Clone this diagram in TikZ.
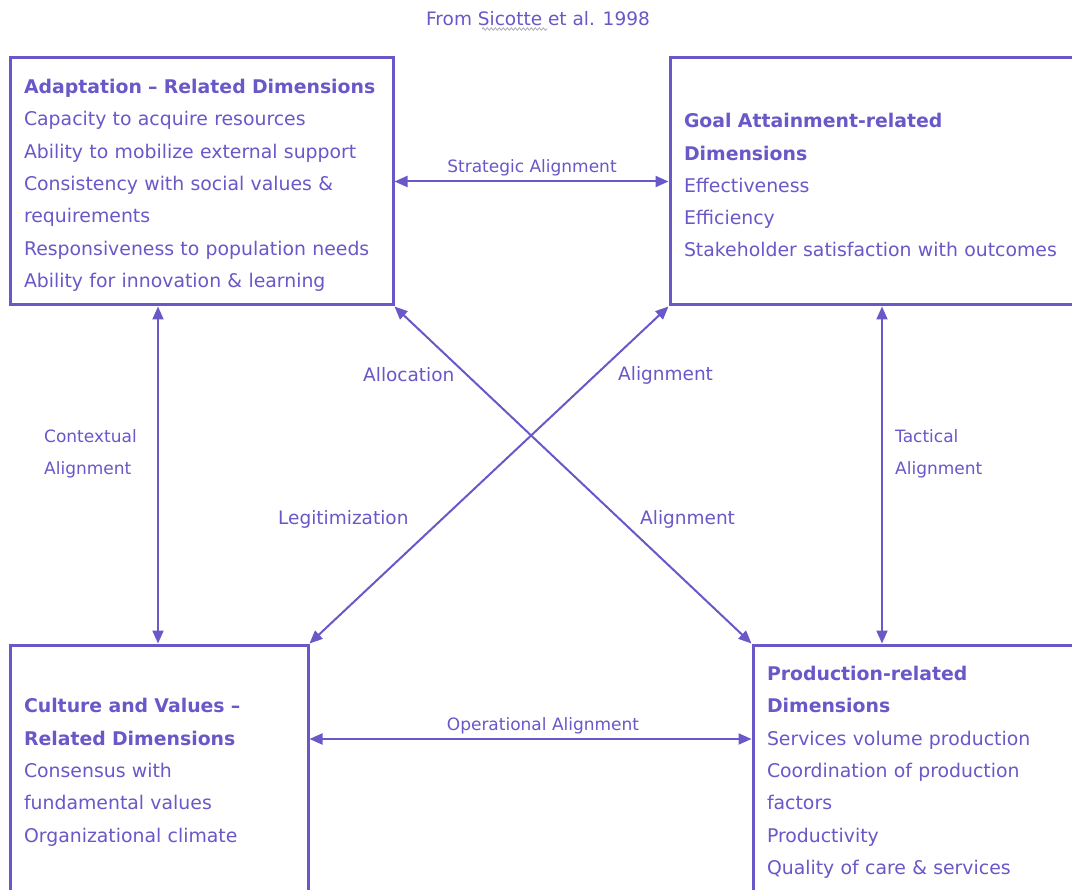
\documentclass[tikz,border=0pt]{standalone}
\usepackage{fontspec}
\setmainfont{DejaVu Sans}
\usetikzlibrary{arrows.meta,decorations.pathmorphing}
\definecolor{pur}{RGB}{104,88,200}
\definecolor{wavy}{RGB}{170,170,185}
\begin{document}
\begin{tikzpicture}[x=1pt,y=-1pt,
  box/.style={draw=pur, line width=3pt, rectangle, minimum height=247pt,
    inner xsep=14pt, inner ysep=0pt, align=left, text=pur,
    font=\fontsize{18.86}{32.3}\selectfont, anchor=center,
    execute at begin node={\rule{0pt}{22pt}}},
  conn/.style={draw=pur, line width=2pt,
    {Triangle[length=13pt,width=11pt]}-{Triangle[length=13pt,width=11pt]}},
  lbl/.style={text=pur, font=\fontsize{17}{32.3}\selectfont, inner sep=0pt},
  dlbl/.style={text=pur, font=\fontsize{18.5}{32.3}\selectfont, inner sep=0pt, anchor=west}]
\useasboundingbox (0,0) rectangle (1072,890);
\clip (0,0) rectangle (1072,890);
\fill[white] (0,0) rectangle (1072,890);

% title
\node[lbl, font=\fontsize{18.5}{22}\selectfont] (title) at (538,19) {From Sicotte et al. 1998};
\draw[wavy, line width=0.8pt, decorate, decoration={snake, amplitude=1.2pt, segment length=4pt}]
  (482,29) -- (547,29);

% boxes
\node[box, text width=355pt] (A) at (201.5,181.5) {\textbf{Adaptation – Related Dimensions}\\
Capacity to acquire resources\\
Ability to mobilize external support\\
Consistency with social values \&\\
requirements\\
Responsiveness to population needs\\
Ability for innovation \& learning};

\node[box, text width=394pt] (G) at (881,181.5) {\textbf{Goal Attainment-related}\\
\textbf{Dimensions}\\
Effectiveness\\
Efficiency\\
Stakeholder satisfaction with outcomes};

\node[box, text width=270pt] (C) at (159,768.5) {\textbf{Culture and Values –}\\
\textbf{Related Dimensions}\\
Consensus with\\
fundamental values\\
Organizational climate};

\node[box, text width=311pt] (P) at (922.5,768.5) {\textbf{Production-related}\\
\textbf{Dimensions}\\
Services volume production\\
Coordination of production\\
factors\\
Productivity\\
Quality of care \& services};

% helper coordinates
\coordinate (op) at (543,739);
\coordinate (ctx) at (158,450);
\coordinate (tac) at (882,450);

% connectors
\draw[conn] (A.east) -- (G.west);
\draw[conn] (C.east |- op) -- (P.west |- op);
\draw[conn] (A.south -| ctx) -- (C.north -| ctx);
\draw[conn] (G.south -| tac) -- (P.north -| tac);
\draw[conn] (A.south east) -- (P.north west);
\draw[conn] (G.south west) -- (C.north east);

% labels
\node[lbl] (lstr) at (532,168) {Strategic Alignment};
\node[lbl] (lop) at (543,726) {Operational Alignment};
\node[lbl, anchor=west, align=left] (lctx) at (44,454) {Contextual\\Alignment};
\node[lbl, anchor=west, align=left] (ltac) at (895,454) {Tactical\\Alignment};
\node[dlbl] (lalloc) at (363,375) {Allocation};
\node[dlbl] (lal1) at (618,375) {Alignment};
\node[dlbl] (lleg) at (278,519) {Legitimization};
\node[dlbl] (lal2) at (640,519) {Alignment};
\end{tikzpicture}
\end{document}
